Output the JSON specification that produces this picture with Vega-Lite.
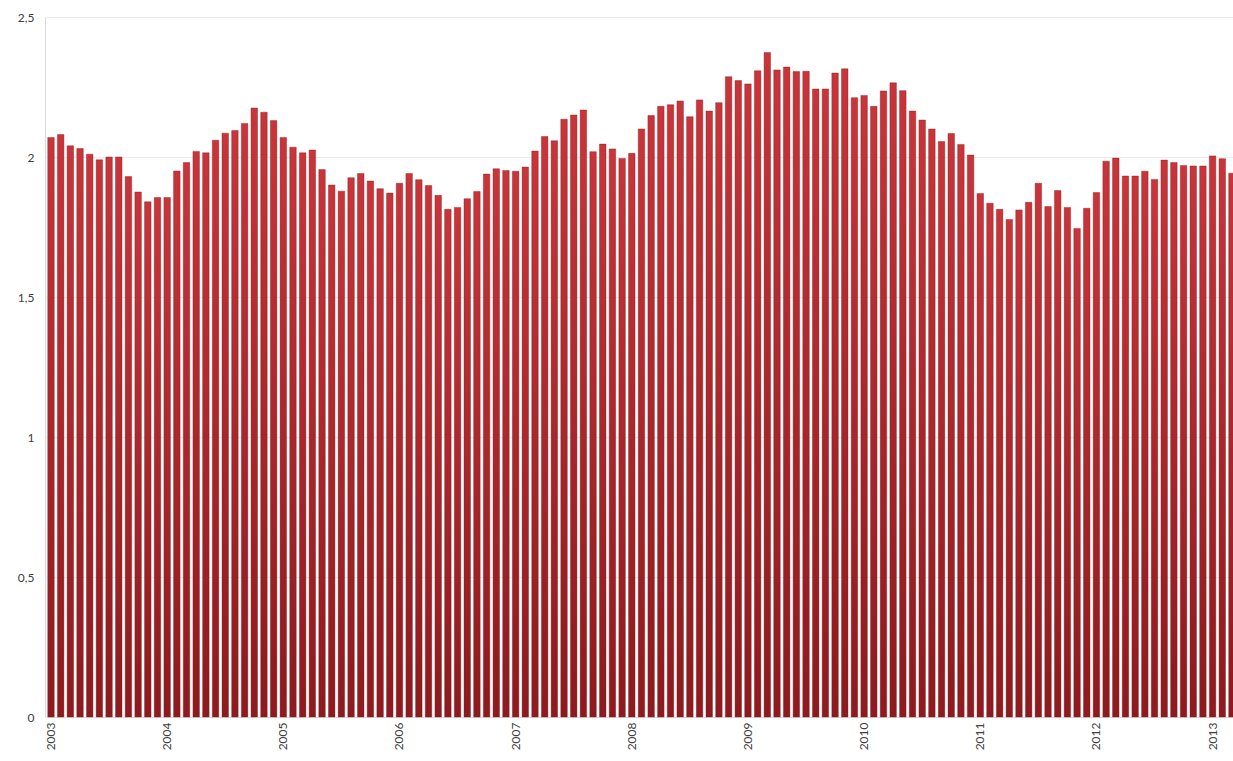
{
  "$schema": "https://vega.github.io/schema/vega-lite/v6.json",
  "width": 1188,
  "height": 700,
  "autosize": "none",
  "padding": {"left": 45, "top": 17, "right": 0, "bottom": 44},
  "background": "white",
  "config": {"view": {"stroke": null}, "font": "Lato"},
  "data": {"values": [
    {"m": "2003-01", "v": 2.07}, {"m": "2003-02", "v": 2.08}, {"m": "2003-03", "v": 2.04}, {"m": "2003-04", "v": 2.03},
    {"m": "2003-05", "v": 2.01}, {"m": "2003-06", "v": 1.99}, {"m": "2003-07", "v": 2.0}, {"m": "2003-08", "v": 2.0},
    {"m": "2003-09", "v": 1.93}, {"m": "2003-10", "v": 1.875}, {"m": "2003-11", "v": 1.84}, {"m": "2003-12", "v": 1.855},
    {"m": "2004-01", "v": 1.855}, {"m": "2004-02", "v": 1.95}, {"m": "2004-03", "v": 1.98}, {"m": "2004-04", "v": 2.02},
    {"m": "2004-05", "v": 2.015}, {"m": "2004-06", "v": 2.06}, {"m": "2004-07", "v": 2.085}, {"m": "2004-08", "v": 2.095},
    {"m": "2004-09", "v": 2.12}, {"m": "2004-10", "v": 2.175}, {"m": "2004-11", "v": 2.16}, {"m": "2004-12", "v": 2.13},
    {"m": "2005-01", "v": 2.07}, {"m": "2005-02", "v": 2.035}, {"m": "2005-03", "v": 2.015}, {"m": "2005-04", "v": 2.025},
    {"m": "2005-05", "v": 1.955}, {"m": "2005-06", "v": 1.9}, {"m": "2005-07", "v": 1.878}, {"m": "2005-08", "v": 1.926},
    {"m": "2005-09", "v": 1.941}, {"m": "2005-10", "v": 1.914}, {"m": "2005-11", "v": 1.887}, {"m": "2005-12", "v": 1.871},
    {"m": "2006-01", "v": 1.906}, {"m": "2006-02", "v": 1.941}, {"m": "2006-03", "v": 1.919}, {"m": "2006-04", "v": 1.898},
    {"m": "2006-05", "v": 1.863}, {"m": "2006-06", "v": 1.813}, {"m": "2006-07", "v": 1.82}, {"m": "2006-08", "v": 1.851},
    {"m": "2006-09", "v": 1.877}, {"m": "2006-10", "v": 1.939}, {"m": "2006-11", "v": 1.958}, {"m": "2006-12", "v": 1.952},
    {"m": "2007-01", "v": 1.949}, {"m": "2007-02", "v": 1.964}, {"m": "2007-03", "v": 2.021}, {"m": "2007-04", "v": 2.073},
    {"m": "2007-05", "v": 2.058}, {"m": "2007-06", "v": 2.135}, {"m": "2007-07", "v": 2.15}, {"m": "2007-08", "v": 2.168},
    {"m": "2007-09", "v": 2.019}, {"m": "2007-10", "v": 2.046}, {"m": "2007-11", "v": 2.029}, {"m": "2007-12", "v": 1.995},
    {"m": "2008-01", "v": 2.013}, {"m": "2008-02", "v": 2.1}, {"m": "2008-03", "v": 2.148}, {"m": "2008-04", "v": 2.181},
    {"m": "2008-05", "v": 2.187}, {"m": "2008-06", "v": 2.2}, {"m": "2008-07", "v": 2.144}, {"m": "2008-08", "v": 2.204},
    {"m": "2008-09", "v": 2.164}, {"m": "2008-10", "v": 2.194}, {"m": "2008-11", "v": 2.287}, {"m": "2008-12", "v": 2.273},
    {"m": "2009-01", "v": 2.261}, {"m": "2009-02", "v": 2.308}, {"m": "2009-03", "v": 2.373}, {"m": "2009-04", "v": 2.311},
    {"m": "2009-05", "v": 2.321}, {"m": "2009-06", "v": 2.305}, {"m": "2009-07", "v": 2.306}, {"m": "2009-08", "v": 2.243},
    {"m": "2009-09", "v": 2.243}, {"m": "2009-10", "v": 2.3}, {"m": "2009-11", "v": 2.315}, {"m": "2009-12", "v": 2.212},
    {"m": "2010-01", "v": 2.22}, {"m": "2010-02", "v": 2.181}, {"m": "2010-03", "v": 2.236}, {"m": "2010-04", "v": 2.265},
    {"m": "2010-05", "v": 2.237}, {"m": "2010-06", "v": 2.164}, {"m": "2010-07", "v": 2.132}, {"m": "2010-08", "v": 2.1},
    {"m": "2010-09", "v": 2.055}, {"m": "2010-10", "v": 2.084}, {"m": "2010-11", "v": 2.045}, {"m": "2010-12", "v": 2.007},
    {"m": "2011-01", "v": 1.87}, {"m": "2011-02", "v": 1.835}, {"m": "2011-03", "v": 1.813}, {"m": "2011-04", "v": 1.777},
    {"m": "2011-05", "v": 1.811}, {"m": "2011-06", "v": 1.838}, {"m": "2011-07", "v": 1.906}, {"m": "2011-08", "v": 1.823},
    {"m": "2011-09", "v": 1.88}, {"m": "2011-10", "v": 1.82}, {"m": "2011-11", "v": 1.745}, {"m": "2011-12", "v": 1.817},
    {"m": "2012-01", "v": 1.873}, {"m": "2012-02", "v": 1.985}, {"m": "2012-03", "v": 1.996}, {"m": "2012-04", "v": 1.932},
    {"m": "2012-05", "v": 1.932}, {"m": "2012-06", "v": 1.949}, {"m": "2012-07", "v": 1.92}, {"m": "2012-08", "v": 1.989},
    {"m": "2012-09", "v": 1.98}, {"m": "2012-10", "v": 1.97}, {"m": "2012-11", "v": 1.968}, {"m": "2012-12", "v": 1.968},
    {"m": "2013-01", "v": 2.004}, {"m": "2013-02", "v": 1.994}, {"m": "2013-03", "v": 1.942}
  ]},
  "mark": {
    "type": "bar",
    "color": {
      "gradient": "linear", "x1": 0, "y1": 0, "x2": 0, "y2": 1,
      "stops": [{"offset": 0, "color": "#c8353a"}, {"offset": 1, "color": "#8c1a1e"}]
    },
    "stroke": "#8a1c20",
    "strokeWidth": 0.6,
    "strokeOpacity": 0.7
  },
  "encoding": {
    "x": {
      "field": "m", "type": "ordinal", "sort": null,
      "scale": {"range": [1.16, 1191.8], "paddingInner": 0.33, "paddingOuter": 0.165},
      "axis": {
        "title": null,
        "labelExpr": "slice(datum.value, 5) == '01' ? slice(datum.value, 0, 4) : ''",
        "labelAngle": -90, "labelFontSize": 12, "labelColor": "#404040", "labelPadding": 5,
        "labelOverlap": false, "ticks": false, "domainColor": "#d9d9d9"
      }
    },
    "y": {
      "field": "v", "type": "quantitative",
      "scale": {"domain": [0, 2.5], "nice": false},
      "axis": {
        "title": null, "values": [0, 0.5, 1, 1.5, 2, 2.5],
        "labelExpr": "replace(toString(datum.value), '.', ',')",
        "gridColor": "#ececec", "domainColor": "#d9d9d9", "ticks": false,
        "labelPadding": 11, "labelFontSize": 12, "labelColor": "#404040"
      }
    }
  }
}
